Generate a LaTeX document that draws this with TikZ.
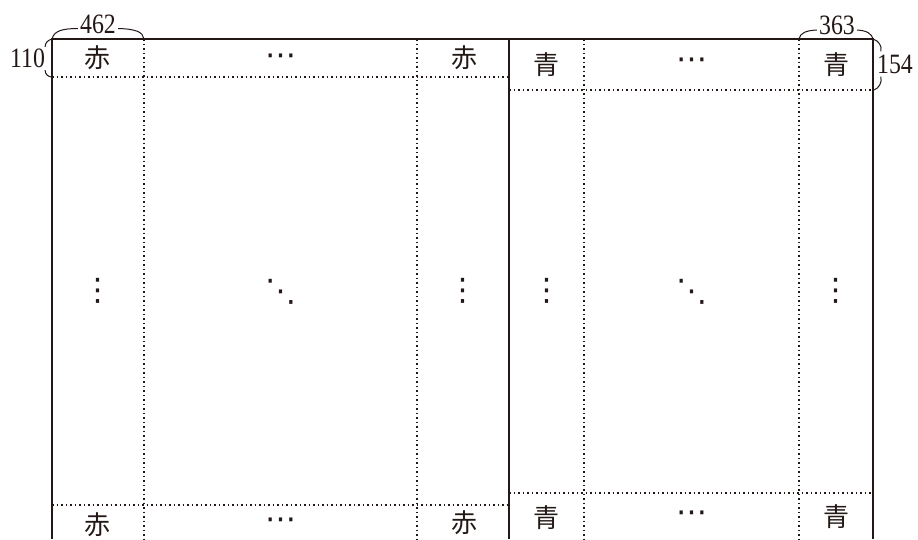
\documentclass[tikz,border=0pt]{standalone}
\usepackage{fontspec}
\setmainfont{Liberation Serif}
\newfontfamily\cjkfont{Noto Sans CJK JP}
\newfontfamily\numfont[FakeStretch=0.85]{Liberation Serif}
\newfontfamily\dotfont{DejaVu Sans}
\usetikzlibrary{calc}
\definecolor{ink}{RGB}{35,24,21}
\begin{document}
\begin{tikzpicture}[x=1pt,y=-1pt,
  frame/.style={line width=2pt, draw=ink},
  midline/.style={line width=1.2pt, draw=ink},
  dotline/.style={line width=1.5pt, dash pattern=on 1.5pt off 3pt, draw=ink},
  cjk/.style={font=\cjkfont\fontsize{26}{26}\selectfont, inner sep=0pt, text=ink},
  dim/.style={font=\numfont\fontsize{28}{28}\selectfont, inner sep=0pt, text=ink},
  dotsym/.style={font=\dotfont\fontsize{31}{31}\selectfont, inner sep=0pt, text=ink},
  bracepart/.style={line width=1pt, draw=ink}]
\useasboundingbox (0,0) rectangle (918,539);
% frame
\draw[frame] (52,539) -- (52,39) -- (873,39) -- (873,539);
\draw[midline] (509,39) -- (509,539);
% dotted grid left sheet
\draw[dotline] (52,77) -- (509,77);
\draw[dotline] (52,505) -- (509,505);
\draw[dotline] (144,39) -- (144,539);
\draw[dotline] (417,39) -- (417,539);
% dotted grid right sheet
\draw[dotline] (509,90) -- (873,90);
\draw[dotline] (509,493) -- (873,493);
\draw[dotline] (584,39) -- (584,539);
\draw[dotline] (799,39) -- (799,539);
% top row
\node[cjk] (r1) at (97.5,58) {赤};
\node[dotsym] (rh1) at (281,60) {⋯};
\node[cjk] (r2) at (464,58) {赤};
\node[cjk] (b1) at (546,65) {青};
\node[dotsym] (bh1) at (692,64) {⋯};
\node[cjk] (b2) at (836.5,65) {青};
% middle row
\node[dotsym] (rv1) at (98,291) {⋮};
\node[dotsym] (rd) at (280.5,291.5) {⋱};
\node[dotsym] (rv2) at (463,291) {⋮};
\node[dotsym] (bv1) at (547,291) {⋮};
\node[dotsym] (bd) at (691.5,291.5) {⋱};
\node[dotsym] (bv2) at (836,291) {⋮};
% bottom row
\node[cjk] (r3) at (97,525) {赤};
\node[dotsym] (rh2) at (281,524) {⋯};
\node[cjk] (r4) at (464,523) {赤};
\node[cjk] (b3) at (546,518) {青};
\node[dotsym] (bh2) at (692,517) {⋯};
\node[cjk] (b4) at (836,517) {青};
% dimension labels
\node[dim] (l462) at (98,24.5) {462};
\node[dim] (l363) at (837,25) {363};
\node[dim] (l110) at (27.5,58.5) {110};
\node[dim] (l154) at (895,64) {154};
% braces
\coordinate (tl) at (52,39);
\coordinate (tr) at (873,39);
\draw[bracepart] (tl) .. controls (54,31) and (62,28.5) .. ($(l462.west)+(-2,4)$);
\draw[bracepart] ($(l462.east)+(2,4)$) .. controls (136,29) and (143,32) .. (144,39);
\draw[bracepart] (799,39) .. controls (800,33) and (806,30.5) .. ($(l363.west)+(-2,5)$);
\draw[bracepart] ($(l363.east)+(2,5)$) .. controls (867,30.5) and (872,34) .. (tr);
\draw[bracepart] (tl) .. controls (48,40) and (45,43) .. ($(l110.north east)+(0,-2)$);
\draw[bracepart] ($(l110.south east)+(0,2)$) .. controls (45,74) and (48,77) .. (52,77);
\draw[bracepart] (tr) .. controls (879,41) and (882,46) .. ($(l154.north west)+(4,-3)$);
\draw[bracepart] ($(l154.south west)+(4,3)$) .. controls (882,83) and (879,88) .. (874,90);
\end{tikzpicture}
\end{document}
